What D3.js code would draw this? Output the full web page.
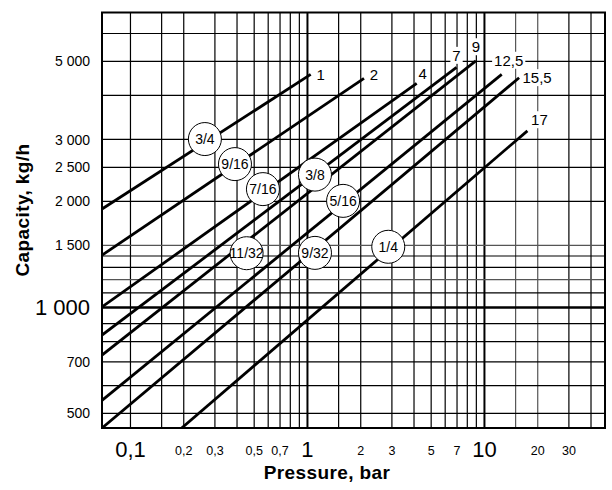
<!DOCTYPE html>
<html>
<head>
<meta charset="utf-8">
<script src="https://cdn.jsdelivr.net/npm/d3@7"></script>
<style>
  body { margin: 0; background: #fff; }
  svg text { font-family: 'Liberation Sans Narrow', 'Arial Narrow', 'Liberation Sans', Arial, sans-serif; fill: #000; }
  .plain { font-family: 'Liberation Sans', Arial, sans-serif !important; }
</style>
</head>
<body>
<svg id="chart" width="612" height="490"></svg>
<script>
// max pressure of each line (label at the end of the line)
const maxPressure = ['1', '2', '4', '7', '9', '12,5', '15,5', '17'];
// start and end of every capacity line (bar, kg/h)
const startPressure = [0.0695, 0.0695, 0.0695, 0.0695, 0.0695, 0.0695, 0.0695, 0.196];
const startCapacity = [1897, 1403, 1000, 832, 730, 543, 453, 453];
const endPressure = [1.05, 2.1, 4.17, 7.0, 9.0, 12.6, 15.8, 17.6];
const endCapacity = [4577, 4457, 4315, 4789, 5001, 4577, 4477, 3164];

// nozzle size circles
const sizeLabels = ['3/4', '9/16', '7/16', '3/8', '5/16', '11/32', '9/32', '1/4'];
const sizePressure = [0.265, 0.392, 0.564, 1.11, 1.6, 0.456, 1.11, 2.88];
const sizeCapacity = [2998, 2545, 2161, 2376, 2001, 1421, 1424, 1482];

// grid and ticks
const xGrid = [0.1, 0.15, 0.2, 0.3, 0.4, 0.5, 0.6, 0.7, 0.8, 0.9, 1, 1.5, 2, 3, 4, 5, 6, 7, 8, 9, 10, 15, 20, 30, 40];
const yGrid = [500, 600, 700, 800, 900, 1000, 1100, 1200, 1300, 1400, 1500, 2000, 2500, 3000, 4000, 5000, 6000];
const xTickValues = [0.1, 0.2, 0.3, 0.5, 0.7, 1, 2, 3, 5, 7, 10, 20, 30];
const xTickText = ['0,1', '0,2', '0,3', '0,5', '0,7', '1', '2', '3', '5', '7', '10', '20', '30'];
const yTickValues = [500, 700, 1000, 1500, 2000, 2500, 3000, 5000];
const yTickText = ['500', '700', '1 000', '1 500', '2 000', '2 500', '3 000', '5 000'];

const L = 102, R = 605, T = 12.5, B = 428;
const svg = d3.select('#chart');

const x = d3.scaleLog().domain([0.0695, 48.3]).range([L, R]);
const y = d3.scaleLog().domain([453, 6860]).range([B, T]);

const bigX = new Set([0.1, 1, 10]);

// grid
const gx = svg.append('g')
  .attr('transform', `translate(0,${B})`)
  .call(d3.axisBottom(x).tickValues(xGrid).tickSize(-(B - T)).tickFormat(''));
gx.select('.domain').remove();
gx.selectAll('.tick line')
  .attr('stroke', d => (d === 15 || d === 20) ? '#555' : '#000')
  .attr('stroke-width', d => (d === 1 || d === 10) ? 2 : 1.2);

const gy = svg.append('g')
  .attr('transform', `translate(${L},0)`)
  .call(d3.axisLeft(y).tickValues(yGrid).tickSize(-(R - L)).tickFormat(''));
gy.select('.domain').remove();
gy.selectAll('.tick line')
  .attr('stroke', d => (d === 1200 || d === 1500) ? '#555' : '#000')
  .attr('stroke-width', d => d === 1000 ? 2.5 : 1.2);

svg.append('rect')
  .attr('x', L).attr('y', T).attr('width', R - L).attr('height', B - T)
  .attr('fill', 'none').attr('stroke', '#000').attr('stroke-width', 2);

// tick labels
const xl = svg.append('g')
  .attr('transform', `translate(0,${B})`)
  .call(d3.axisBottom(x).tickValues(xTickValues).tickSize(0).tickFormat((d, i) => xTickText[i]));
xl.select('.domain').remove();
xl.selectAll('.tick text')
  .attr('y', d => bigX.has(d) ? 29 : 27)
  .attr('dy', 0)
  .style('font-size', d => bigX.has(d) ? '22px' : '12.5px');

const yl = svg.append('g')
  .attr('transform', `translate(${L},0)`)
  .call(d3.axisLeft(y).tickValues(yTickValues).tickSize(0).tickPadding(12).tickFormat((d, i) => yTickText[i]));
yl.select('.domain').remove();
yl.selectAll('.tick text')
  .attr('dy', '0.36em')
  .style('font-size', d => d === 1000 ? '22px' : '14px');

// capacity lines
svg.append('clipPath').attr('id', 'plot')
  .append('rect').attr('x', L).attr('y', T).attr('width', R - L).attr('height', B - T);

const line = d3.line().x(d => x(d[0])).y(d => y(d[1]));
const lines = maxPressure.map((m, i) => [[startPressure[i], startCapacity[i]], [endPressure[i], endCapacity[i]]]);

svg.append('g').attr('clip-path', 'url(#plot)')
  .selectAll('path').data(lines).join('path')
  .attr('d', line)
  .attr('fill', 'none').attr('stroke', '#000').attr('stroke-width', 2.8);

// max pressure labels at line ends
const endOffset = [[10, 0], [10, -4], [6, -10], [0, -12], [0, -14], [7, -14], [18, 0], [12, -11]];
const ends = svg.append('g');
maxPressure.forEach((m, i) => {
  const g = ends.append('g')
    .attr('transform', `translate(${x(endPressure[i]) + endOffset[i][0]},${y(endCapacity[i]) + endOffset[i][1]})`);
  const bg = g.append('rect').attr('fill', '#fff');
  const t = g.append('text')
    .attr('class', 'plain')
    .attr('text-anchor', 'middle')
    .attr('dy', '0.36em')
    .style('font-size', '15px')
    .text(m);
  const bb = t.node().getBBox();
  bg.attr('x', bb.x - 2).attr('y', bb.y).attr('width', bb.width + 4).attr('height', bb.height);
});

// size circles
const circles = svg.append('g').selectAll('g')
  .data(sizeLabels).join('g')
  .attr('transform', (d, i) => `translate(${x(sizePressure[i])},${y(sizeCapacity[i])})`);
circles.append('circle').attr('r', 16.5).attr('fill', '#fff').attr('stroke', '#000').attr('stroke-width', 1);
circles.append('text')
  .attr('text-anchor', 'middle').attr('dy', '0.36em')
  .style('font-size', '14px')
  .text(d => d);

// axis titles
svg.append('text')
  .attr('class', 'plain')
  .attr('x', 327).attr('y', 479)
  .attr('text-anchor', 'middle')
  .style('font-size', '19px').style('font-weight', 'bold').style('letter-spacing', '0.4px')
  .text('Pressure, bar');

svg.append('text')
  .attr('class', 'plain')
  .attr('transform', 'translate(29,210) rotate(-90)')
  .attr('text-anchor', 'middle')
  .style('font-size', '19px').style('font-weight', 'bold').style('letter-spacing', '0.4px')
  .text('Capacity, kg/h');
</script>
</body>
</html>
